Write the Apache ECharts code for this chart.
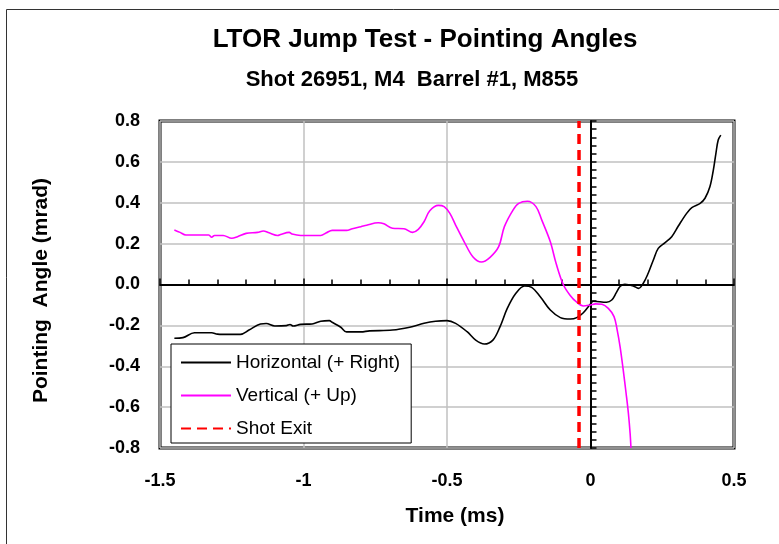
<!DOCTYPE html>
<html>
<head>
<meta charset="utf-8">
<script src="https://cdn.jsdelivr.net/npm/echarts@6/dist/echarts.min.js"></script>
<style>
  html, body { margin: 0; padding: 0; background: #fff; }
  #chart { width: 779px; height: 544px; }
</style>
</head>
<body>
<div id="chart"></div>
<script>
// Horizontal pointing angle (+ right), mrad vs time (ms)
const hTime = [-1.45,-1.42,-1.38,-1.32,-1.30,-1.28,-1.22,-1.19,-1.15,-1.13,-1.10,-1.06,-1.047,-1.036,-1.01,-0.97,-0.94,-0.91,-0.90,-0.87,-0.85,-0.80,-0.77,-0.69,-0.63,-0.58,-0.54,-0.50,-0.47,-0.43,-0.40,-0.37,-0.34,-0.315,-0.29,-0.26,-0.23,-0.205,-0.175,-0.14,-0.105,-0.07,-0.048,-0.025,0.0,0.01,0.056,0.074,0.09,0.103,0.12,0.149,0.167,0.184,0.201,0.219,0.236,0.26,0.283,0.306,0.335,0.353,0.382,0.399,0.416,0.428,0.437,0.445,0.454];
const hAngle = [-0.263,-0.260,-0.236,-0.236,-0.243,-0.244,-0.244,-0.223,-0.193,-0.191,-0.203,-0.201,-0.196,-0.203,-0.195,-0.193,-0.180,-0.177,-0.185,-0.209,-0.232,-0.232,-0.227,-0.223,-0.209,-0.190,-0.180,-0.177,-0.190,-0.231,-0.272,-0.291,-0.272,-0.206,-0.117,-0.043,-0.007,-0.014,-0.060,-0.125,-0.162,-0.169,-0.162,-0.138,-0.095,-0.082,-0.087,-0.076,-0.040,-0.010,0.001,-0.007,-0.019,0.006,0.055,0.120,0.177,0.205,0.234,0.286,0.348,0.376,0.397,0.422,0.478,0.560,0.642,0.707,0.731];

// Vertical pointing angle (+ up)
const vTime = [-1.45,-1.43,-1.41,-1.33,-1.32,-1.31,-1.28,-1.25,-1.23,-1.20,-1.16,-1.14,-1.12,-1.09,-1.08,-1.05,-1.04,-1.01,-0.94,-0.92,-0.90,-0.85,-0.83,-0.80,-0.78,-0.74,-0.72,-0.69,-0.65,-0.62,-0.60,-0.58,-0.56,-0.53,-0.51,-0.49,-0.47,-0.44,-0.41,-0.38,-0.35,-0.32,-0.30,-0.27,-0.25,-0.22,-0.19,-0.17,-0.14,-0.12,-0.095,-0.07,-0.05,-0.025,0.0,0.017,0.04,0.062,0.082,0.093,0.103,0.114,0.124,0.132,0.138,0.141];
const vAngle = [0.267,0.255,0.242,0.242,0.231,0.240,0.240,0.226,0.234,0.250,0.255,0.262,0.253,0.240,0.245,0.255,0.247,0.240,0.240,0.253,0.265,0.265,0.273,0.283,0.290,0.302,0.297,0.275,0.273,0.255,0.270,0.307,0.361,0.387,0.381,0.348,0.291,0.209,0.136,0.110,0.133,0.185,0.283,0.364,0.397,0.407,0.381,0.316,0.209,0.104,0.000,-0.055,-0.084,-0.105,-0.100,-0.095,-0.097,-0.117,-0.157,-0.223,-0.304,-0.418,-0.532,-0.630,-0.728,-0.800];

// Shot exit time (ms)
const shotExit = -0.04;

// Axis ranges and tick labels
const xTicks = [-1.5, -1, -0.5, 0, 0.5];
const yMin = -0.8, yMax = 0.8, yStep = 0.2;

const zip = (a, b) => a.map((t, i) => [t, b[i]]);
const FONT = '"Liberation Sans", Arial, sans-serif';

const chart = echarts.init(document.getElementById('chart'), null, { renderer: 'canvas' });

chart.setOption({
  backgroundColor: '#ffffff',
  animation: false,
  title: [
    { text: 'LTOR Jump Test - Pointing Angles', left: 420, top: 22, textAlign: 'center',
      textStyle: { fontFamily: FONT, fontWeight: 'bold', fontSize: 26, color: '#000' } },
    { text: 'Shot 26951, M4  Barrel #1, M855', left: 407, top: 64, textAlign: 'center',
      textStyle: { fontFamily: FONT, fontWeight: 'bold', fontSize: 22, color: '#000' } }
  ],
  graphic: [
    { type: 'rect', shape: { x: 6.5, y: 9.5, width: 900, height: 700 },
      style: { fill: 'none', stroke: '#333', lineWidth: 1 }, silent: true, z: -1 }
  ],
  grid: { left: 160, right: 45, top: 121, bottom: 96, show: true,
          borderColor: '#000', borderWidth: 3, backgroundColor: 'transparent' },
  legend: {
    orient: 'vertical', left: 171, top: 344,
    backgroundColor: '#fff', borderColor: '#000', borderWidth: 1,
    padding: [9, 11, 5, 9], itemGap: 14, itemWidth: 50, itemHeight: 14,
    itemStyle: { opacity: 0 },
    textStyle: { fontFamily: FONT, fontSize: 19, color: '#000' },
    data: ['Horizontal (+ Right)', 'Vertical (+ Up)', 'Shot Exit']
  },
  xAxis: [
    { type: 'value', min: -1.5, max: 0.5, interval: 0.5, position: 'bottom',
      axisLine: { onZero: false, show: false }, axisTick: { show: false },
      splitLine: { show: true, lineStyle: { color: '#c0c0c0', width: 1.5 } },
      axisLabel: { margin: 24, fontFamily: FONT, fontWeight: 'bold', fontSize: 18, color: '#000',
                   formatter: v => xTicks.includes(v) ? String(v) : '' },
      name: 'Time (ms)', nameLocation: 'middle', nameGap: 58,
      nameTextStyle: { fontFamily: FONT, fontWeight: 'bold', fontSize: 21, color: '#000',
                       padding: [0, 0, 0, 16] } },
    { type: 'value', min: -1.5, max: 0.5, interval: 0.5, position: 'bottom',
      axisLine: { onZero: true, onZeroAxisIndex: 0, lineStyle: { color: '#000', width: 2 } },
      axisTick: { show: true, inside: true, length: 6, lineStyle: { color: '#000', width: 1.5 } },
      minorTick: { show: true, splitNumber: 5, length: 5, lineStyle: { color: '#000', width: 1.5 } },
      axisLabel: { show: false }, splitLine: { show: false } }
  ],
  yAxis: [
    { type: 'value', min: yMin, max: yMax, interval: yStep, position: 'left',
      axisLine: { onZero: false, show: false }, axisTick: { show: false },
      splitLine: { show: true, lineStyle: { color: '#c0c0c0', width: 1.5 } },
      axisLabel: { margin: 20, fontFamily: FONT, fontWeight: 'bold', fontSize: 18, color: '#000',
                   formatter: v => v.toFixed(1) },
      name: 'Pointing  Angle (mrad)', nameLocation: 'middle', nameGap: 108, nameRotate: 90,
      nameTextStyle: { fontFamily: FONT, fontWeight: 'bold', fontSize: 21, color: '#000',
                       padding: [0, 12, 0, 0] } },
    { type: 'value', min: yMin, max: yMax, interval: yStep, position: 'left',
      axisLine: { onZero: true, onZeroAxisIndex: 0, lineStyle: { color: '#000', width: 2 } },
      axisTick: { show: true, inside: true, length: 6, lineStyle: { color: '#000', width: 1.5 } },
      minorTick: { show: true, splitNumber: 5, length: 6, lineStyle: { color: '#000', width: 1.5 } },
      axisLabel: { show: false }, splitLine: { show: false } }
  ],
  series: [
    { name: 'Horizontal (+ Right)', type: 'line', xAxisIndex: 0, yAxisIndex: 0,
      data: zip(hTime, hAngle), showSymbol: false, symbol: 'none', smooth: 0.35,
      lineStyle: { color: '#000', width: 1.6 }, itemStyle: { color: '#000' }, z: 3 },
    { name: 'Vertical (+ Up)', type: 'line', xAxisIndex: 0, yAxisIndex: 0,
      data: zip(vTime, vAngle), showSymbol: false, symbol: 'none', smooth: 0.35,
      lineStyle: { color: '#ff00ff', width: 1.6 }, itemStyle: { color: '#ff00ff' }, z: 3 },
    { name: 'Shot Exit', type: 'line', xAxisIndex: 0, yAxisIndex: 0,
      data: [[shotExit, yMin], [shotExit, yMax]], showSymbol: false, symbol: 'none',
      lineStyle: { color: '#ff0000', width: 3.5, type: [10, 6] }, itemStyle: { color: '#ff0000' }, z: 4 }
  ]
});
</script>
</body>
</html>
